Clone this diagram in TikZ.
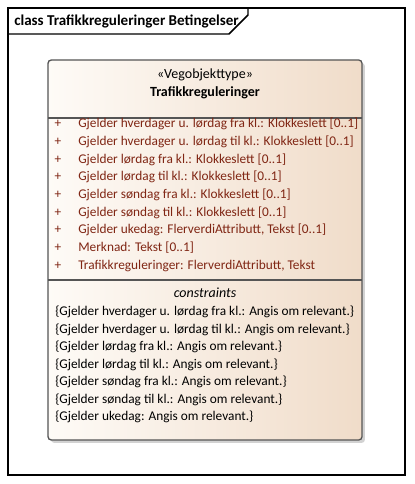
\documentclass[tikz,border=0pt]{standalone}
\usepackage{fontspec}
\setmainfont{Carlito}
\usepackage{xcolor}
\usepackage{tikz}
\usetikzlibrary{shadows}

\definecolor{attrred}{RGB}{128,38,20}
\definecolor{boxedge}{RGB}{85,85,85}
\definecolor{fillleft}{RGB}{254,251,247}
\definecolor{fillright}{RGB}{240,220,201}

\begin{document}
\begin{tikzpicture}[
    x=0.75pt, y=-0.75pt,
    font=\fontsize{10pt}{12pt}\selectfont,
    frameline/.style={draw=black, line width=1.1pt},
    classbox/.style={draw=boxedge, line width=1pt, rounded corners=2.5pt, left color=fillleft, right color=fillright,
      drop shadow={shadow xshift=2.2pt, shadow yshift=-2.2pt, fill=black!35}},
    sepline/.style={draw=boxedge, line width=0.8pt},
    titletext/.style={anchor=west, inner sep=0pt, font=\fontsize{11.3pt}{13pt}\selectfont\bfseries},
    headtext/.style={inner sep=0pt, font=\fontsize{10.5pt}{12pt}\selectfont},
    plustext/.style={inner sep=0pt, text=attrred},
    attrtext/.style={anchor=west, inner sep=0pt, text=attrred},
    consttext/.style={anchor=west, inner sep=0pt}
  ]
    \useasboundingbox (0,0) rectangle (414,484);

    % diagram frame with title tab
    \draw[frameline] (8,8) rectangle (405,475);
    \node[titletext] (frametitle) at (14,21) {class Trafikkreguleringer Betingelser};
    \draw[frameline] (8,34) -- (229,34) -- (248,15) -- (248,8);

    % class box
    \draw[classbox] (48,60) rectangle (362,440);
    \coordinate (sepa) at (48,118);
    \coordinate (sepb) at (48,280);
    \draw[sepline] (sepa) -- ++(314,0);
    \draw[sepline] (sepb) -- ++(314,0);

    \node[headtext] (stereo) at (205,75) {«Vegobjekttype»};
    \node[headtext] (classname) at (205,93) {\textbf{Trafikkreguleringer}};

    % attributes
    \foreach \txt [count=\n] in {
      {Gjelder hverdager u. lørdag fra kl.: Klokkeslett [0..1]},
      {Gjelder hverdager u. lørdag til kl.: Klokkeslett [0..1]},
      {Gjelder lørdag fra kl.: Klokkeslett [0..1]},
      {Gjelder lørdag til kl.: Klokkeslett [0..1]},
      {Gjelder søndag fra kl.: Klokkeslett [0..1]},
      {Gjelder søndag til kl.: Klokkeslett [0..1]},
      {Gjelder ukedag: FlerverdiAttributt, Tekst [0..1]},
      {Merknad: Tekst [0..1]},
      {Trafikkreguleringer: FlerverdiAttributt, Tekst}}{
      \node[plustext] (plus\n) at (58,{124+17.7*(\n-1)}) {+};
      \node[attrtext] (attr\n) at (78,{124+17.7*(\n-1)}) {\txt};
    }

    % constraints
    \node[headtext] (consthead) at (205,293) {\textit{constraints}};
    \foreach \txt [count=\n] in {
      {\{Gjelder hverdager u. lørdag fra kl.: Angis om relevant.\}},
      {\{Gjelder hverdager u. lørdag til kl.: Angis om relevant.\}},
      {\{Gjelder lørdag fra kl.: Angis om relevant.\}},
      {\{Gjelder lørdag til kl.: Angis om relevant.\}},
      {\{Gjelder søndag fra kl.: Angis om relevant.\}},
      {\{Gjelder søndag til kl.: Angis om relevant.\}},
      {\{Gjelder ukedag: Angis om relevant.\}}}{
      \node[consttext] (const\n) at (55,{312+17.5*(\n-1)}) {\txt};
    }
  \end{tikzpicture}
\end{document}
